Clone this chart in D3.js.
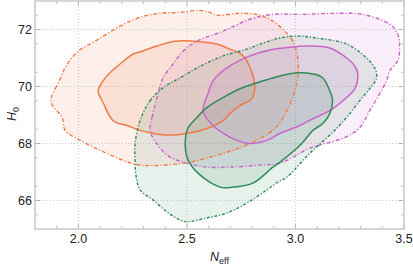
<!DOCTYPE html>
<html>
<head>
<meta charset="utf-8">
<script src="https://cdn.jsdelivr.net/npm/d3@7"></script>
<style>
	body { margin: 0; background: #fff; }
	svg { display: block; font-family: "Liberation Sans", Arial, sans-serif; }
	.spine { fill: none; stroke: #c8c8c8; stroke-width: 1.5; }
	.grid line { stroke: #bdbdbd; stroke-width: 0.8; stroke-dasharray: 1,2; }
	.tick line { stroke: #b4b4b4; }
	.ticklabel { font-size: 12.5px; fill: #222; }
	.axislabel { font-size: 12.5px; fill: #222; font-style: italic; }
</style>
</head>
<body>
<svg id="chart" width="413" height="266"></svg>
<script>
"use strict";

// axis ticks
const xTicks = [2.0, 2.5, 3.0, 3.5];
const yTicks = [66, 68, 70, 72];
const xMinor = [1.9, 2.1, 2.2, 2.3, 2.4, 2.6, 2.7, 2.8, 2.9, 3.1, 3.2, 3.3, 3.4];
const yMinor = [65.5, 66.5, 67.5, 68.5, 69.5, 70.5, 71.5, 72.5];

// contours, [N_eff, H0] pairs
const orangeOuter = [
	[1.874, 69.57], [1.893, 69.92], [1.916, 70.27], [1.943, 70.72], [1.999, 71.24],
	[2.077, 71.59], [2.192, 72.12], [2.284, 72.43], [2.376, 72.57], [2.467, 72.60],
	[2.560, 72.67], [2.606, 72.60], [2.638, 72.50], [2.744, 72.57], [2.836, 72.50],
	[2.896, 72.29], [2.951, 71.94], [2.988, 71.59], [3.011, 71.00], [3.011, 70.37],
	[2.997, 69.85], [2.965, 69.22], [2.928, 68.73], [2.896, 68.46], [2.790, 68.00],
	[2.666, 67.65], [2.482, 67.31], [2.284, 67.24], [2.206, 67.41], [2.100, 67.76],
	[2.008, 68.11], [1.939, 68.46], [1.925, 68.91], [1.879, 69.36]
];
const orangeInner = [
	[2.091, 69.85], [2.114, 70.20], [2.155, 70.55], [2.192, 70.79], [2.252, 71.14],
	[2.284, 71.21], [2.362, 71.42], [2.444, 71.59], [2.528, 71.59], [2.638, 71.49],
	[2.698, 71.31], [2.744, 71.17], [2.776, 70.90], [2.804, 70.37], [2.813, 69.96],
	[2.799, 69.57], [2.744, 69.33], [2.698, 69.05], [2.666, 68.80], [2.606, 68.56],
	[2.467, 68.32], [2.376, 68.32], [2.284, 68.46], [2.224, 68.63], [2.160, 68.80],
	[2.114, 69.43]
];
const magentaOuter = [
	[2.330, 68.46], [2.339, 68.91], [2.362, 69.61], [2.390, 70.30], [2.436, 70.79],
	[2.482, 71.24], [2.546, 71.59], [2.666, 71.94], [2.790, 72.36], [2.896, 72.53],
	[3.020, 72.53], [3.204, 72.57], [3.310, 72.53], [3.434, 72.19], [3.471, 71.84],
	[3.480, 71.35], [3.471, 70.90], [3.434, 70.55], [3.420, 70.20], [3.388, 69.75],
	[3.342, 69.15], [3.296, 68.56], [3.230, 68.22], [3.066, 67.83],
	[2.928, 67.31], [2.836, 67.24], [2.698, 67.17], [2.592, 67.17], [2.500, 67.31],
	[2.422, 67.52], [2.367, 67.93]
];
const magentaInner = [
	[2.574, 69.15], [2.597, 69.75], [2.620, 70.20], [2.684, 70.65], [2.776, 71.03],
	[2.882, 71.28], [2.974, 71.38], [3.066, 71.42], [3.158, 71.35], [3.236, 71.00],
	[3.273, 70.72], [3.287, 70.44], [3.273, 69.92], [3.218, 69.50], [3.158, 69.15],
	[3.080, 68.87], [3.020, 68.63], [2.928, 68.35], [2.868, 68.11], [2.790, 68.00],
	[2.730, 68.11], [2.661, 68.39], [2.606, 68.74]
];
const greenOuter = [
	[2.284, 68.80], [2.330, 69.50], [2.390, 69.96], [2.467, 70.30], [2.546, 70.65],
	[2.666, 71.07], [2.776, 71.31], [2.850, 71.52], [2.928, 71.70], [3.006, 71.77],
	[3.098, 71.70], [3.236, 71.49], [3.328, 71.00], [3.365, 70.65], [3.374, 70.30],
	[3.342, 69.92], [3.296, 69.50], [3.250, 69.05], [3.181, 68.46], [3.066, 67.66],
	[2.960, 66.82], [2.919, 66.65], [2.868, 66.37], [2.776, 65.91], [2.684, 65.56],
	[2.592, 65.39], [2.500, 65.25], [2.467, 65.32], [2.408, 65.60], [2.344, 66.02],
	[2.284, 66.37], [2.265, 66.89], [2.261, 67.41], [2.261, 68.00]
];
const greenInner = [
	[2.500, 68.46], [2.546, 68.91], [2.592, 69.26], [2.666, 69.61], [2.744, 69.92],
	[2.822, 70.13], [2.896, 70.30], [3.006, 70.48], [3.080, 70.44], [3.126, 70.30],
	[3.158, 69.85], [3.171, 69.50], [3.158, 69.05], [3.126, 68.70], [3.080, 68.46],
	[3.029, 68.00], [2.928, 67.34], [2.896, 67.17], [2.804, 66.61], [2.712, 66.47],
	[2.652, 66.47], [2.551, 66.96], [2.500, 67.52]
];

const pl = 35, pr = 404, pt = 1, pb = 229;

let svg = d3.select("#chart");

let x = d3.scaleLinear().domain([1.8, 3.5]).range([pl, pr]);
let y = d3.scaleLinear().domain([65, 73]).range([pb, pt]);

svg.append("clipPath")
	.attr("id", "plotclip")
	.append("rect")
	.attr("x", pl)
	.attr("y", pt)
	.attr("width", pr - pl)
	.attr("height", pb - pt);

// dotted grid at the major ticks
let grid = svg.append("g").classed("grid", true);
grid.selectAll(".gx")
	.data(xTicks.slice(0, 3))
	.join("line")
	.attr("x1", d=>x(d)).attr("x2", d=>x(d))
	.attr("y1", pt).attr("y2", pb);
grid.selectAll(".gy")
	.data(yTicks)
	.join("line")
	.attr("x1", pl).attr("x2", pr)
	.attr("y1", d=>y(d)).attr("y2", d=>y(d));

// contours: fill, then line
let line = d3.line()
	.x(d=>x(d[0]))
	.y(d=>y(d[1]))
	.curve(d3.curveCatmullRomClosed.alpha(0.5));

let models = [
	{outer: orangeOuter, inner: orangeInner, color: "#ef7a45", dash: "4,2,1.2,2"},
	{outer: magentaOuter, inner: magentaInner, color: "#c865c8", dash: "4,2,1.2,2"},
	{outer: greenOuter, inner: greenInner, color: "#2f8a57", dash: "3,1.8,1.2,1.8"}
];

let plot = svg.append("g").attr("clip-path", "url(#plotclip)");
for (let m of models) {
	plot.append("path")
		.attr("d", line(m.outer))
		.attr("fill", m.color)
		.attr("fill-opacity", 0.11);
	plot.append("path")
		.attr("d", line(m.inner))
		.attr("fill", m.color)
		.attr("fill-opacity", 0.13);
}
for (let m of models) {
	plot.append("path")
		.attr("d", line(m.outer))
		.attr("fill", "none")
		.attr("stroke", m.color)
		.attr("stroke-width", 1.4)
		.attr("stroke-dasharray", m.dash);
	plot.append("path")
		.attr("d", line(m.inner))
		.attr("fill", "none")
		.attr("stroke", m.color)
		.attr("stroke-width", 1.5);
}

// inward ticks on all four sides
let ticks = svg.append("g").classed("tick", true);
let addTicks = (vals, len, w)=>{
	ticks.selectAll(null).data(vals.x).join("line")
		.attr("x1", d=>x(d)).attr("x2", d=>x(d))
		.attr("y1", pb).attr("y2", pb - len).attr("stroke-width", w);
	ticks.selectAll(null).data(vals.x).join("line")
		.attr("x1", d=>x(d)).attr("x2", d=>x(d))
		.attr("y1", pt).attr("y2", pt + len).attr("stroke-width", w);
	ticks.selectAll(null).data(vals.y).join("line")
		.attr("y1", d=>y(d)).attr("y2", d=>y(d))
		.attr("x1", pl).attr("x2", pl + len).attr("stroke-width", w);
	ticks.selectAll(null).data(vals.y).join("line")
		.attr("y1", d=>y(d)).attr("y2", d=>y(d))
		.attr("x1", pr).attr("x2", pr - len).attr("stroke-width", w);
};
addTicks({x: xTicks, y: yTicks}, 5, 1);
addTicks({x: xMinor, y: yMinor}, 3, 0.8);

svg.append("rect")
	.classed("spine", true)
	.attr("x", pl)
	.attr("y", pt)
	.attr("width", pr - pl)
	.attr("height", pb - pt);

// tick labels
svg.selectAll(".xl")
	.data(xTicks)
	.join("text")
	.classed("ticklabel", true)
	.attr("x", d=>x(d))
	.attr("y", 243)
	.attr("text-anchor", "middle")
	.text(d=>d.toFixed(1));
svg.selectAll(".yl")
	.data(yTicks)
	.join("text")
	.classed("ticklabel", true)
	.attr("x", 32)
	.attr("y", d=>y(d) + 4.5)
	.attr("text-anchor", "end")
	.text(d=>d);

// axis labels
let xl = svg.append("text")
	.classed("axislabel", true)
	.attr("x", (pl + pr) / 2)
	.attr("y", 261)
	.attr("text-anchor", "middle");
xl.append("tspan").text("N");
xl.append("tspan").attr("font-size", "9px").attr("font-style", "normal").attr("dy", 2.5).text("eff");

let yl = svg.append("text")
	.classed("axislabel", true)
	.attr("transform", `translate(16, ${(pt + pb) / 2 - 1}) rotate(-90)`)
	.attr("text-anchor", "middle");
yl.append("tspan").text("H");
yl.append("tspan").attr("font-size", "9px").attr("font-style", "normal").attr("dy", 2.5).text("0");
</script>
</body>
</html>
